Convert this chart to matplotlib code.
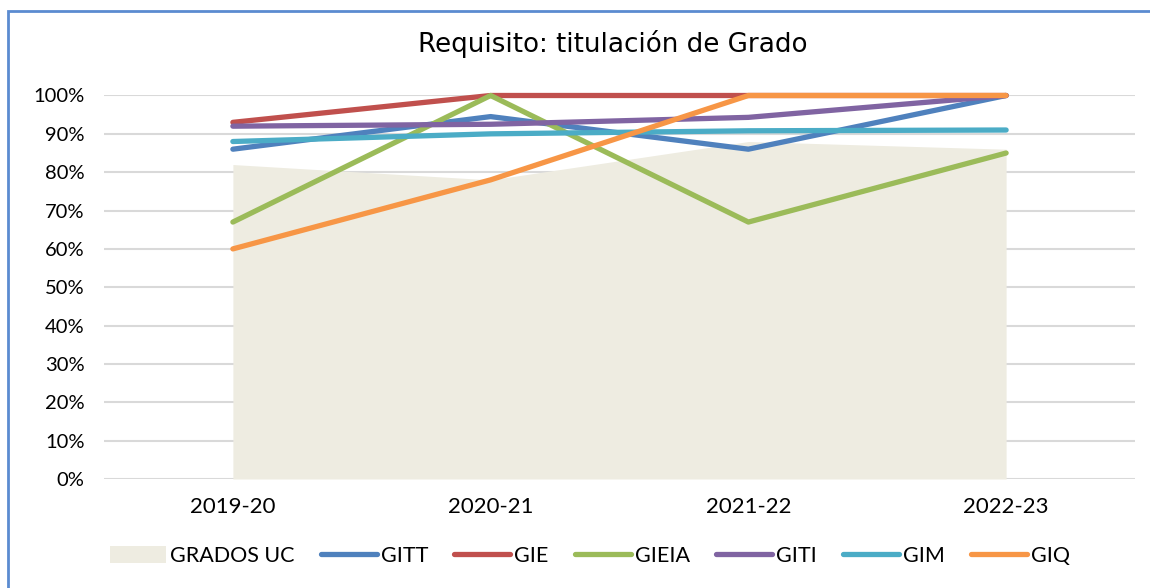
import matplotlib
matplotlib.use("Agg")
import matplotlib.pyplot as plt
from matplotlib.patches import Rectangle, Patch
from matplotlib.lines import Line2D
from matplotlib.ticker import PercentFormatter

plt.rcParams['font.family'] = ['Lato', 'DejaVu Sans']

years = ["2019-20", "2020-21", "2021-22", "2022-23"]
grados_uc = [0.82, 0.78, 0.88, 0.86]
gitt = [0.86, 0.945, 0.86, 1.00]
gie = [0.93, 1.00, 1.00, 1.00]
gieia = [0.67, 1.00, 0.67, 0.85]
giti = [0.92, 0.925, 0.943, 1.00]
gim = [0.88, 0.90, 0.908, 0.91]
giq = [0.60, 0.78, 1.00, 1.00]

series = [
    ("GITT", gitt, "#4F81BD"),
    ("GIE", gie, "#C0504D"),
    ("GIEIA", gieia, "#9BBB59"),
    ("GITI", giti, "#8064A2"),
    ("GIM", gim, "#4BACC6"),
    ("GIQ", giq, "#F79646"),
]

W, H = 1150, 588
fig = plt.figure(figsize=(W / 100, H / 100), dpi=100)
ax = fig.add_axes([104 / W, (H - 479) / H, (1135 - 104) / W, (479 - 95.5) / H])

x = list(range(len(years)))
ax.fill_between(x, 0, grados_uc, color="#EEECE1", linewidth=0, zorder=1)
for name, vals, col in series:
    ax.plot(x, vals, color=col, linewidth=3.8, solid_capstyle="round",
            solid_joinstyle="round", clip_on=False, zorder=3)

ax.set_xlim(-0.5, 3.5)
ax.set_ylim(0, 1.0)
ax.set_yticks([i / 10 for i in range(11)])
ax.yaxis.set_major_formatter(PercentFormatter(1.0, decimals=0))
ax.set_xticks(x)
ax.set_xticklabels(years)
ax.grid(axis="y", color="#D9D9D9", linewidth=1.5, zorder=0)
ax.set_axisbelow(True)
for s in ax.spines.values():
    s.set_visible(False)
ax.tick_params(axis="both", length=0, colors="#000000")
ax.tick_params(axis="x", labelsize=16, pad=13)
ax.tick_params(axis="y", labelsize=14.5, pad=14)

fig.text(612.5 / W, 1 - 52 / H, "Requisito: titulación de Grado",
         ha="center", va="baseline", fontsize=18.8, family="DejaVu Sans")

handles = [Patch(facecolor="#EEECE1", edgecolor="none", label="GRADOS UC")]
for name, vals, col in series:
    handles.append(Line2D([0], [0], color=col, linewidth=3.8,
                          solid_capstyle="round", label=name))
fig.legend(handles=handles, loc="center", bbox_to_anchor=(590 / W, 1 - 556 / H),
           ncol=7, frameon=False, fontsize=15.5, handlelength=2.6,
           handletextpad=0.2, columnspacing=1.2, handleheight=0.8,
           borderpad=0, borderaxespad=0)

fig.patches.append(Rectangle((7.5 / W, -0.1), 1.2, 1 - 10.5 / H + 0.1,
                             transform=fig.transFigure, fill=False,
                             edgecolor="#5B8BD0", linewidth=2))

fig.savefig("out.png", dpi=100, facecolor="white")
